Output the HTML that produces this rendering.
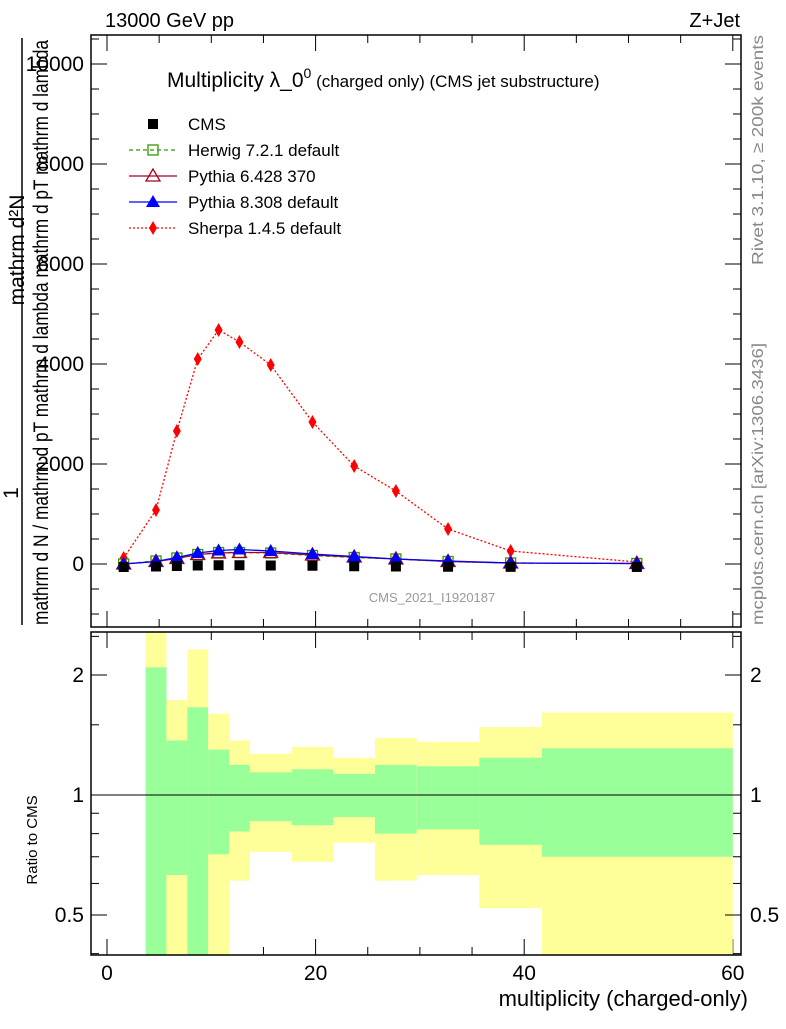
<!DOCTYPE html>
<html><head><meta charset="utf-8"><style>
body{margin:0;background:#fff;font-family:"Liberation Sans",sans-serif}
svg text{font-family:"Liberation Sans","DejaVu Sans",sans-serif}
</style></head><body>
<svg id="c" width="786" height="1024" xmlns="http://www.w3.org/2000/svg">
<text x="105" y="27" font-size="20">13000 GeV pp</text>
<text x="740" y="27" font-size="20" text-anchor="end">Z+Jet</text>
<text x="167" y="87" font-size="21">Multiplicity λ_0<tspan dy="-9" font-size="14">0</tspan><tspan dy="9" font-size="17"> (charged only) (CMS jet substructure)</tspan></text>
<g id="main"></g>
<g id="ratio"></g>
<text x="432" y="602" font-size="13" fill="#999" text-anchor="middle">CMS_2021_I1920187</text>
<text transform="translate(763,265) rotate(-90)" font-size="16" fill="#888" textLength="230" lengthAdjust="spacingAndGlyphs">Rivet 3.1.10, ≥ 200k events</text>
<text transform="translate(763,625) rotate(-90)" font-size="16" fill="#888" textLength="282" lengthAdjust="spacingAndGlyphs">mcplots.cern.ch [arXiv:1306.3436]</text>
<text transform="translate(24,250) rotate(-90)" font-size="21" text-anchor="middle">mathrm d²N</text>
<text transform="translate(18,493) rotate(-90)" font-size="21" text-anchor="middle">1</text>
<line x1="22" y1="38" x2="22" y2="625" stroke="#000" stroke-width="1.5"/>
<text transform="translate(48,625) rotate(-90)" font-size="21" textLength="585" lengthAdjust="spacingAndGlyphs">mathrm d N / mathrm d pT mathrm d lambda mathrm d pT mathrm d lambda</text>
<text transform="translate(37,840) rotate(-90)" font-size="15" text-anchor="middle">Ratio to CMS</text>
<text x="748" y="1006" font-size="22" text-anchor="end">multiplicity (charged-only)</text>
<g id="legend"></g>
</svg>
<script>
const binEdges=[0,3.7,5.7,7.7,9.7,11.7,13.7,17.7,21.7,25.7,29.7,35.7,41.7,60];
const binCenters=[1.6,4.7,6.7,8.7,10.7,12.7,15.7,19.7,23.7,27.7,32.7,38.7,50.8];
const cmsVals=[0,10,20,30,35,35,30,25,15,10,5,3,1];
const herwigVals=[0,60,120,190,230,230,220,170,130,100,50,20,10];
const pythia6Vals=[0,50,110,190,220,230,230,180,140,100,50,20,10];
const pythia8Vals=[0,50,130,220,270,290,260,200,150,100,60,20,10];
const sherpaVals=[120,1080,2660,4100,4680,4440,3980,2840,1960,1460,700,260,40];
const greenUp=[null,2.09,1.37,1.66,1.30,1.19,1.14,1.16,1.13,1.19,1.18,1.24,1.31];
const greenLo=[null,0.01,0.63,0.01,0.71,0.81,0.86,0.84,0.88,0.80,0.82,0.75,0.70];
const yellowUp=[null,9,1.73,2.32,1.6,1.37,1.27,1.32,1.24,1.39,1.36,1.48,1.61];
const yellowLo=[null,0.01,0.01,0.01,0.01,0.61,0.72,0.68,0.76,0.61,0.63,0.52,0.01];
const yTicks=[0,2000,4000,6000,8000,10000];
const xTicks=[0,20,40,60];
const rTicks=[0.5,1,2];
const NS="http://www.w3.org/2000/svg";
const L=91,R=741,T=35,B=627,RT=632,RB=955;
const X=v=>107+v*10.43;
const Y=v=>564-v*0.05;
const RY=v=>Math.min(RB,Math.max(RT,795-Math.log2(v)*120));
function mk(p,tag,a){const e=document.createElementNS(NS,tag);for(const k in a)e.setAttribute(k,a[k]);p.appendChild(e);return e;}
const main=document.getElementById('main'),ratio=document.getElementById('ratio'),leg=document.getElementById('legend');
for(let i=1;i<binCenters.length;i++){
 const x1=X(binEdges[i]),x2=X(binEdges[i+1]);
 let r=mk(ratio,'rect',{x:x1,y:RY(yellowUp[i]),width:x2-x1,height:RY(yellowLo[i])-RY(yellowUp[i]),fill:'#ffff99'});
 
 
 r=mk(ratio,'rect',{x:x1,y:RY(greenUp[i]),width:x2-x1,height:RY(greenLo[i])-RY(greenUp[i]),fill:'#99ff99'});
 
 
}
mk(ratio,'line',{x1:L,x2:R,y1:RY(1),y2:RY(1),stroke:'#000','stroke-width':1});
mk(main,'rect',{x:L,y:T,width:R-L,height:B-T,fill:'none',stroke:'#000','stroke-width':1.5});
mk(ratio,'rect',{x:L,y:RT,width:R-L,height:RB-RT,fill:'none',stroke:'#000','stroke-width':1.5});
for(let v=-1000;v<=10500;v+=500){const y=Y(v);const maj=v%2000===0;
 mk(main,'line',{x1:L,x2:L+(maj?16:8),y1:y,y2:y,stroke:'#000'});
 mk(main,'line',{x1:R,x2:R-(maj?16:8),y1:y,y2:y,stroke:'#000'});}
yTicks.forEach(v=>{const t=mk(main,'text',{x:84,y:Y(v)+7,'font-size':21,'text-anchor':'end'});t.textContent=v;
 
 });
for(let v=0;v<=60;v+=5){const x=X(v);const maj=v%20===0;
 [[T,1],[RT,1],[B,-1],[RB,-1]].forEach(([y,d])=>mk(main,'line',{x1:x,x2:x,y1:y,y2:y+d*(maj?16:8),stroke:'#000'}));}
xTicks.forEach(v=>{const t=mk(ratio,'text',{x:X(v),y:980,'font-size':21,'text-anchor':'middle'});t.textContent=v;
 
 });
[0.4,0.5,0.6,0.7,0.8,0.9,1,1.5,2,2.5].forEach(v=>{const y=RY(v);const maj=rTicks.includes(v);
 mk(ratio,'line',{x1:L,x2:L+(maj?16:8),y1:y,y2:y,stroke:'#000'});
 mk(ratio,'line',{x1:R,x2:R-(maj?16:8),y1:y,y2:y,stroke:'#000'});});
rTicks.forEach(v=>{[[84,'end'],[750,'start']].forEach(([x,a])=>{const t=mk(ratio,'text',{x:x,y:RY(v)+7,'font-size':21,'text-anchor':a});t.textContent=v;
 
 });});
function line(vals,col,dash,name){const p=vals.map((v,i)=>X(binCenters[i])+','+Y(v)).join(' ');
 const e=mk(main,'polyline',{points:p,fill:'none',stroke:col,'stroke-width':1.3,'stroke-dasharray':dash});
 
 }
function marker(g,kind,x,y,col){
 if(kind==='sq')return mk(g,'rect',{x:x-5,y:y-5,width:10,height:10,fill:'#000'});
 if(kind==='osq')return mk(g,'rect',{x:x-5,y:y-5,width:10,height:10,fill:'none',stroke:col,'stroke-width':1.3});
 if(kind==='otri')return mk(g,'polygon',{points:`${x},${y-7} ${x-7},${y+5} ${x+7},${y+5}`,fill:'none',stroke:col,'stroke-width':1.3});
 if(kind==='tri')return mk(g,'polygon',{points:`${x},${y-7} ${x-7},${y+5} ${x+7},${y+5}`,fill:col});
 return mk(g,'polygon',{points:`${x},${y-7} ${x-4},${y} ${x},${y+7} ${x+4},${y}`,fill:col});}
const series=[
 [sherpaVals,'#ff0000','2,2','dia','sherpa'],
 [herwigVals,'#339900','4,3','osq','herwig'],
 [pythia6Vals,'#aa0022','','otri','pythia6'],
 [pythia8Vals,'#0000ff','','tri','pythia8']];
series.forEach(([v,c,d,k,n])=>{line(v,c,d,n+'-line');
 v.forEach((val,i)=>{const m=marker(main,k,X(binCenters[i]),Y(val),c);
  
  });});
cmsVals.forEach((v,i)=>{const m=marker(main,'sq',X(binCenters[i]),Y(v)+3,'#000');
 
 });
const legItems=[['CMS','#000','','sq'],['Herwig 7.2.1 default','#339900','4,3','osq'],['Pythia 6.428 370','#aa0022','','otri'],['Pythia 8.308 default','#0000ff','','tri'],['Sherpa 1.4.5 default','#ff0000','2,2','dia']];
legItems.forEach(([t,c,d,k],i)=>{const y=124+i*26;
 if(i>0)mk(leg,'line',{x1:129,x2:177,y1:y,y2:y,stroke:c,'stroke-width':1.3,'stroke-dasharray':d});
 marker(leg,k,153,y,c);
 const e=mk(leg,'text',{x:188,y:y+6,'font-size':17});e.textContent=t;
 
 });
</script>
</body></html>
